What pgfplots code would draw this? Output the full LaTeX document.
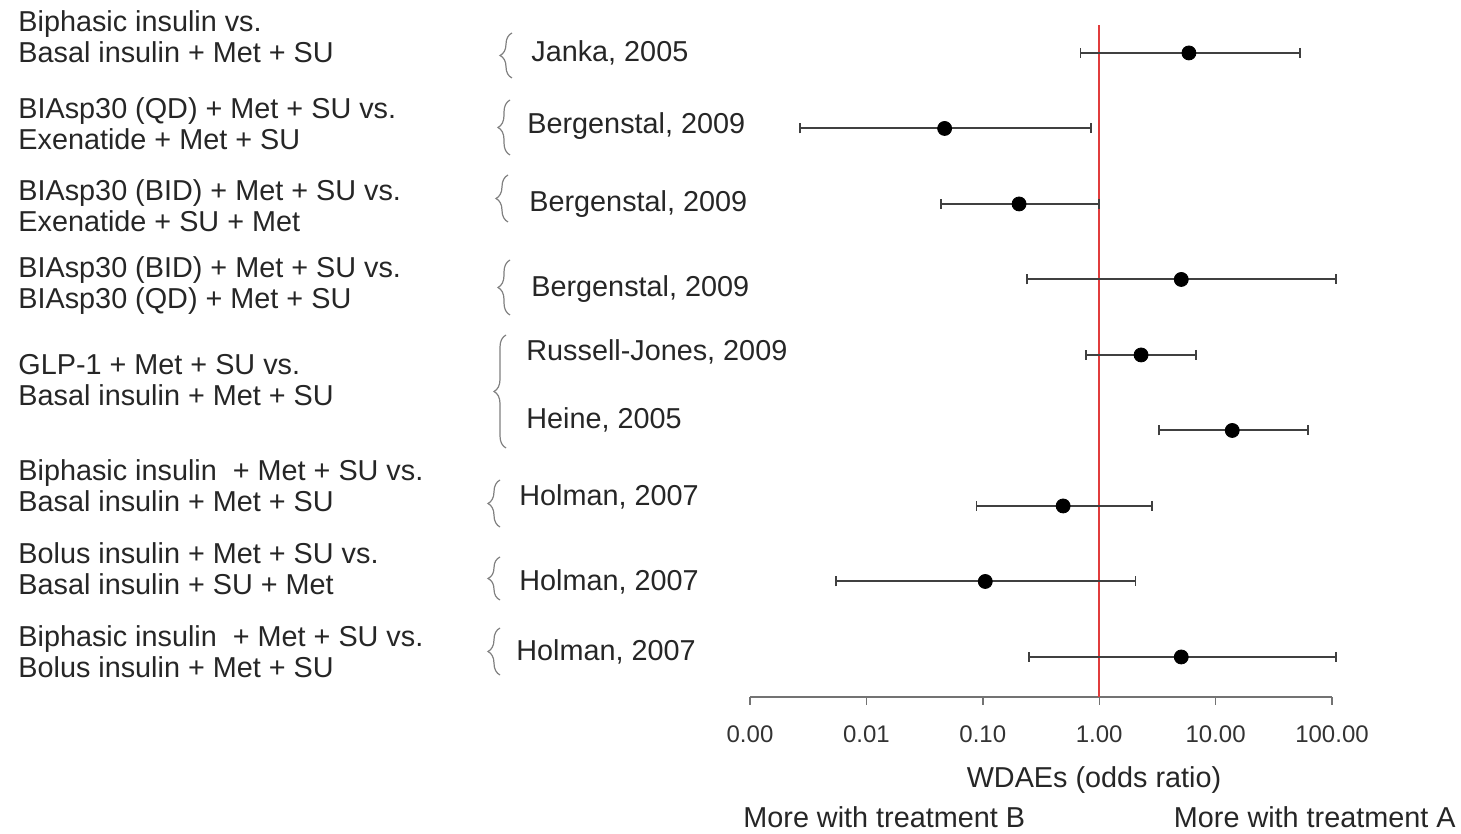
\documentclass[border=0pt]{standalone}
\usepackage{pgfplots}
\pgfplotsset{compat=1.18}
\usepackage{pgfplotstable}
\usepackage{fontspec}
\setmainfont{Liberation Sans}
\usetikzlibrary{decorations.pathreplacing}
\definecolor{refline}{RGB}{225,60,60}

% pos = vertical slot (9 = top row), x = odds ratio, lo/hi = 95% CI
\pgfplotstableread{
pos x lo hi
9 5.9 0.69 53
8 0.047 0.0027 0.85
7 0.205 0.0435 1.0
6 5.07 0.24 108
5 2.29 0.77 6.8
4 13.9 3.26 62
3 0.49 0.088 2.85
2 0.105 0.0055 2.05
1 5.07 0.25 108
}\forestdata

\begin{document}
\begin{tikzpicture}
\useasboundingbox (0,0) rectangle (730.5pt,417pt);
\begin{axis}[
 at={(375pt,68.5pt)}, anchor=south west,
 scale only axis, width=291pt, height=336pt,
 xmode=log, log basis x=10, xmin=0.001, xmax=100,
 ymin=0.47, ymax=9.37,
 axis x line=bottom, axis y line=none,
 axis line style={-, black!55, line width=0.7pt},
 xtick={0.001,0.01,0.1,1,10,100},
 xticklabels={0.00,0.01,0.10,1.00,10.00,100.00},
 xminorticks=false,
 tick align=outside, major tick length=4pt,
 tick style={black!55, line width=0.7pt},
 xticklabel style={font=\fontsize{12}{12}\selectfont, text=black!80, yshift=-7pt},
 clip=false,
]
\addplot[refline, line width=0.8pt] coordinates {(1,0.47) (1,9.37)};
\addplot[only marks, mark=*, mark size=3.5pt, black,
  error bars/.cd, x dir=both, x explicit,
  error bar style={black!75, line width=1pt},
  error mark=|,
  error mark options={black!75, mark size=2.5pt, line width=0.8pt}]
 table[x=x, y=pos, x error plus expr=\thisrow{hi}-\thisrow{x}, x error minus expr=\thisrow{x}-\thisrow{lo}] {\forestdata};
\end{axis}

\begin{scope}[x=0.5pt, y=-0.5pt, yshift=417pt,
  every node/.style={inner sep=0pt, text=black!85, font=\fontsize{14.4}{15.5}\selectfont}]
 % comparison labels
 \node[anchor=west, align=left] at (18,37) {Biphasic insulin vs.\\Basal insulin + Met + SU};
 \node[anchor=west, align=left] at (18,124) {BIAsp30 (QD) + Met + SU vs.\\Exenatide + Met + SU};
 \node[anchor=west, align=left] at (18,206) {BIAsp30 (BID) + Met + SU vs.\\Exenatide + SU + Met};
 \node[anchor=west, align=left] at (18,286) {BIAsp30 (BID) + Met + SU vs.\\BIAsp30 (QD) + Met + SU};
 \node[anchor=west, align=left] at (18,380) {GLP-1 + Met + SU vs.\\Basal insulin + Met + SU};
 \node[anchor=west, align=left] at (18,486) {Biphasic insulin \ + Met + SU vs.\\Basal insulin + Met + SU};
 \node[anchor=west, align=left] at (18,569) {Bolus insulin + Met + SU vs.\\Basal insulin + SU + Met};
 \node[anchor=west, align=left] at (18,652) {Biphasic insulin \ + Met + SU vs.\\Bolus insulin + Met + SU};
 % braces
 \begin{scope}[black!50, line width=0.6pt, decoration={brace, amplitude=6pt}]
 \draw[decorate] (512,78) -- (512,33);
 \draw[decorate] (510,155) -- (510,100);
 \draw[decorate] (508,222) -- (508,175);
 \draw[decorate] (510,315) -- (510,260);
 \draw[decorate] (506,448) -- (506,335);
 \draw[decorate] (500,527) -- (500,480);
 \draw[decorate] (500,600) -- (500,557);
 \draw[decorate] (500,675) -- (500,628);
 \end{scope}
 % study labels
 \node[anchor=west] at (531,53) {Janka, 2005};
 \node[anchor=west] at (527,126) {Bergenstal, 2009};
 \node[anchor=west] at (529,204) {Bergenstal, 2009};
 \node[anchor=west] at (531,289) {Bergenstal, 2009};
 \node[anchor=west] at (526,352) {Russell-Jones, 2009};
 \node[anchor=west] at (526,420) {Heine, 2005};
 \node[anchor=west] at (519,497) {Holman, 2007};
 \node[anchor=west] at (519,582) {Holman, 2007};
 \node[anchor=west] at (516,652) {Holman, 2007};
 % bottom texts
 \node at (1094,780) {WDAEs (odds ratio)};
 \node[anchor=west] at (743,817) {More with treatment B};
 \node[anchor=east] at (1456,817) {More with treatment A};
\end{scope}
\end{tikzpicture}
\end{document}
